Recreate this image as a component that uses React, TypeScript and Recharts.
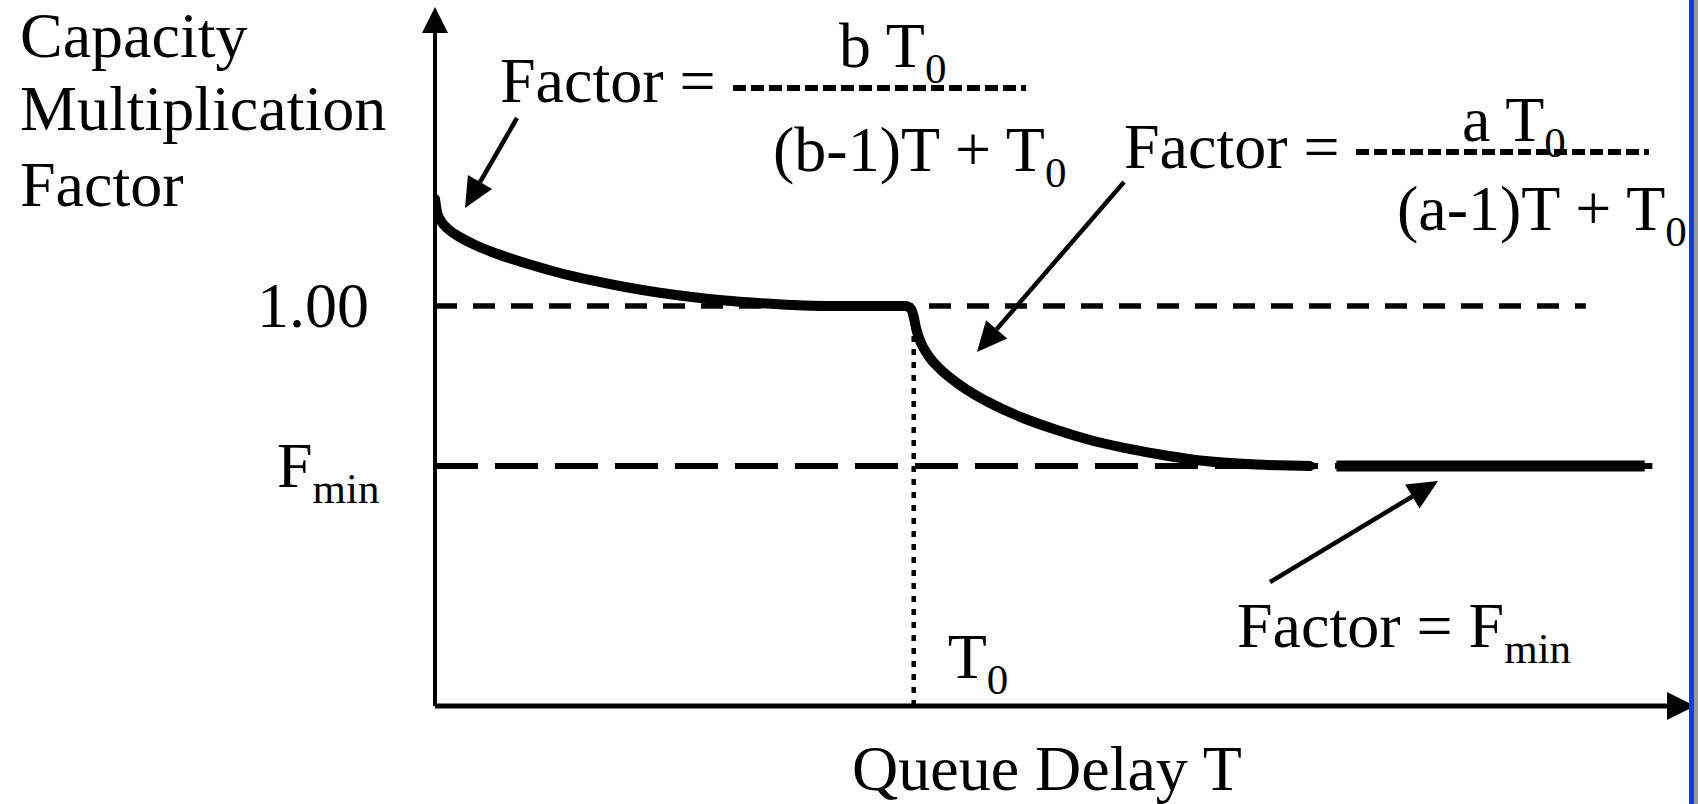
import { ComposedChart, Customized, Line, ReferenceLine, XAxis, YAxis } from "recharts";

// queue delay measured in units of T0, factor on a linear scale
const FMIN = 0.6;

const curveT = [
  0, 0.0042, 0.0125, 0.0272, 0.048, 0.0794, 0.119, 0.188, 0.257, 0.328, 0.397, 0.466, 0.537,
  0.606, 0.675, 0.746, 0.815, 0.909, 0.982, 0.994, 1.0006, 1.0048, 1.011, 1.0194, 1.034, 1.055,
  1.0905, 1.1218, 1.1594, 1.2283, 1.2993, 1.3683, 1.4372, 1.5083, 1.5772, 1.6461, 1.7172, 1.786,
  1.828,
];
const curveFactor = [
  1.2675, 1.235, 1.2125, 1.1925, 1.175, 1.155, 1.135, 1.1075, 1.0838, 1.0638, 1.0475, 1.0338,
  1.0225, 1.0138, 1.0075, 1.0025, 1.0, 1.0, 1.0, 0.993, 0.97, 0.945, 0.92, 0.8975, 0.87, 0.8425,
  0.8075, 0.7825, 0.7575, 0.72, 0.69, 0.665, 0.646, 0.63, 0.617, 0.6085, 0.6035, 0.601, FMIN,
];
const floorT = [1.883, 2.527];
const floorFactor = [FMIN, FMIN];

const yTicks = [FMIN, 1];
const xTicks = [1];

const curveData = curveT.map((t, i) => ({ t, f: curveFactor[i] }));
const floorData = floorT.map((t, i) => ({ t, f: floorFactor[i] }));

// annotation arrows, in chart units (from -> to)
const arrows = [
  { from: { x: 0.1713, y: 1.47 }, to: { x: 0.0627, y: 1.245 } },
  { from: { x: 1.4393, y: 1.31 }, to: { x: 1.1322, y: 0.885 } },
  { from: { x: 1.7443, y: 0.31 }, to: { x: 2.0953, y: 0.5625 } },
];

const FONT = "'Liberation Serif', 'Times New Roman', serif";
const FS = 64;
const SUB = 43;

const arrowShape = (w: number, head: number, half: number) => (props: any) => {
  const { x1, y1, x2, y2 } = props;
  const ang = Math.atan2(y2 - y1, x2 - x1);
  const bx = x2 - head * Math.cos(ang);
  const by = y2 - head * Math.sin(ang);
  const px = -Math.sin(ang) * half;
  const py = Math.cos(ang) * half;
  return (
    <g>
      <line x1={x1} y1={y1} x2={bx} y2={by} stroke="#000" strokeWidth={w} />
      <polygon points={`${x2},${y2} ${bx + px},${by + py} ${bx - px},${by - py}`} fill="#000" />
    </g>
  );
};

const Sub = ({ x, y, main, sub, anchor }: any) => (
  <text x={x} y={y} fontFamily={FONT} fontSize={FS} fill="#000" textAnchor={anchor || "start"}>
    {main}
    <tspan fontSize={SUB} dy={16}>
      {sub}
    </tspan>
  </text>
);

const Texts = () => (
  <g>
    <text fontFamily={FONT} fontSize={FS} fill="#000">
      <tspan x={20} y={57}>Capacity</tspan>
      <tspan x={20} y={130}>Multiplication</tspan>
      <tspan x={20} y={206}>Factor</tspan>
    </text>

    <text x={500} y={102} fontFamily={FONT} fontSize={FS}>Factor =</text>
    <line x1={733} y1={88} x2={1026} y2={88} stroke="#000" strokeWidth={6} strokeDasharray="13 5" />
    <Sub x={839} y={67} main="b T" sub="0" />
    <Sub x={773} y={171} main="(b-1)T + T" sub="0" />

    <text x={1124} y={168} fontFamily={FONT} fontSize={FS}>Factor =</text>
    <line x1={1356} y1={152} x2={1649} y2={152} stroke="#000" strokeWidth={6} strokeDasharray="13 5" />
    <Sub x={1462} y={141} main="a T" sub="0" />
    <Sub x={1397} y={230} main="(a-1)T + T" sub="0" />

    <Sub x={1237} y={647} main="Factor = F" sub="min" />
  </g>
);

const YTick = (props: any) => {
  const { y, payload } = props;
  if (payload.value === 1) {
    return (
      <text x={369} y={y + 21} fontFamily={FONT} fontSize={FS} textAnchor="end">
        1.00
      </text>
    );
  }
  return <Sub x={277} y={y + 21} main="F" sub="min" />;
};

const XTick = (props: any) => {
  const { x } = props;
  return <Sub x={x + 34} y={678} main="T" sub="0" />;
};

const App = () => {
  return (
    <div style={{ position: "absolute", left: 0, top: 0, width: 1698, height: 804, background: "#fff" }}>
      <ComposedChart width={1698} height={804} margin={{ top: 6, right: 3, left: 0, bottom: 0 }}>
        <XAxis
          type="number"
          dataKey="t"
          domain={[0, 2.632]}
          ticks={xTicks}
          axisLine={false}
          tickLine={false}
          tick={<XTick />}
          height={98}
          allowDataOverflow
          label={{
            content: () => (
              <text x={852} y={790} fontFamily={FONT} fontSize={FS}>
                Queue Delay T
              </text>
            ),
          }}
        />
        <YAxis
          type="number"
          domain={[0, 1.75]}
          ticks={yTicks}
          axisLine={false}
          tickLine={false}
          tick={<YTick />}
          width={435}
          allowDataOverflow
        />
        <ReferenceLine
          segment={[{ x: 0, y: 1 }, { x: 2.404, y: 1 }]}
          stroke="#000"
          strokeWidth={5.5}
          strokeDasharray="22 16"
        />
        <ReferenceLine
          segment={[{ x: 0, y: FMIN }, { x: 2.543, y: FMIN }]}
          stroke="#000"
          strokeWidth={6}
          strokeDasharray="43 17"
        />
        <ReferenceLine
          segment={[{ x: 1, y: 0 }, { x: 1, y: 0.96 }]}
          stroke="#000"
          strokeWidth={4.5}
          strokeDasharray="6 7"
        />
        <ReferenceLine
          segment={[{ x: 0, y: 0 }, { x: 0, y: 1.7475 }]}
          shape={arrowShape(4, 26, 13)}
          ifOverflow="visible"
        />
        <ReferenceLine
          segment={[{ x: 0, y: 0 }, { x: 2.632, y: 0 }]}
          shape={arrowShape(5, 28, 14)}
          ifOverflow="visible"
        />
        {arrows.map((a, i) => (
          <ReferenceLine
            key={i}
            segment={[a.from, a.to]}
            shape={arrowShape(4.5, 30, 14)}
            ifOverflow="visible"
          />
        ))}
        <Line
          data={curveData}
          dataKey="f"
          type="monotone"
          stroke="#000"
          strokeWidth={10}
          strokeLinecap="round"
          strokeLinejoin="round"
          dot={false}
          activeDot={false}
          isAnimationActive={false}
        />
        <Line
          data={floorData}
          dataKey="f"
          type="linear"
          stroke="#000"
          strokeWidth={11}
          dot={false}
          activeDot={false}
          isAnimationActive={false}
        />
        <Customized component={Texts} />
      </ComposedChart>
      <div style={{ position: "absolute", left: 1689, top: 0, width: 5, height: 804, background: "#0f3ee8" }} />
      <div style={{ position: "absolute", left: 1694, top: 0, width: 4, height: 804, background: "#999" }} />
    </div>
  );
};

export default App;
